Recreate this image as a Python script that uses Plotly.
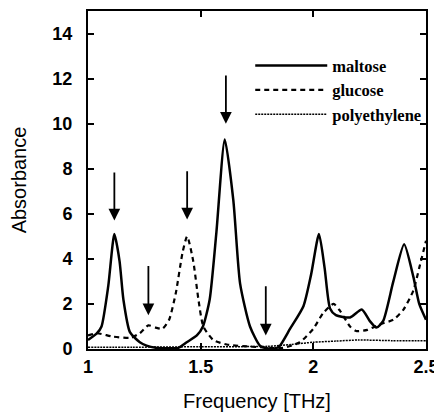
import plotly.graph_objects as go

# ---- data ----
maltose_x = [1.00, 1.04, 1.06, 1.09, 1.117, 1.14, 1.157, 1.186, 1.23, 1.26, 1.30, 1.40, 1.438, 1.483,
             1.51, 1.54, 1.57, 1.607, 1.645, 1.675, 1.719, 1.763, 1.80, 1.83, 1.852, 1.897, 1.956,
             1.99, 2.025, 2.05, 2.074, 2.10, 2.163, 2.215, 2.25, 2.28, 2.31, 2.355, 2.403, 2.444,
             2.47, 2.50]
maltose_y = [0.4, 0.7, 1.0, 2.8, 5.1, 3.9, 2.2, 0.75, 0.3, 0.15, 0.06, 0.05, 0.3, 0.6,
             1.0, 2.2, 5.2, 9.3, 6.6, 2.9, 1.0, 0.15, 0.02, 0.02, 0.15, 0.9, 1.9,
             3.3, 5.1, 3.6, 1.8, 1.5, 1.4, 1.75, 1.25, 0.95, 1.25, 3.0, 4.65, 3.2,
             2.0, 1.3]

glucose_x = [1.00, 1.04, 1.11, 1.19, 1.23, 1.268, 1.30, 1.33, 1.36, 1.39, 1.42, 1.44, 1.467, 1.49,
             1.512, 1.556, 1.616, 1.73, 1.865, 1.94, 2.00, 2.044, 2.09, 2.118, 2.163, 2.19, 2.24,
             2.296, 2.355, 2.40, 2.444, 2.47, 2.50]
glucose_y = [0.6, 0.7, 0.55, 0.5, 0.7, 1.05, 0.95, 0.9, 1.3, 2.5, 4.3, 5.0, 3.9, 2.2,
             1.0, 0.4, 0.2, 0.1, 0.05, 0.3, 0.9, 1.6, 2.0, 1.7, 1.0, 0.8, 0.85,
             1.1, 1.3, 1.75, 2.6, 3.6, 4.8]

poly_x = [1.00, 1.20, 1.50, 1.80, 1.90, 2.00, 2.10, 2.20, 2.35, 2.50]
poly_y = [0.08, 0.08, 0.10, 0.12, 0.2, 0.3, 0.35, 0.4, 0.37, 0.37]

arrow_x = [1.117, 1.268, 1.44, 1.612, 1.789]
arrow_top = [7.9, 3.75, 7.95, 12.2, 2.85]
arrow_tip = [5.7, 1.5, 5.75, 10.0, 0.6]

x_ticks = [1, 1.5, 2, 2.5]
x_tick_text = ["1", "1.5", "2", "2.5"]
y_ticks = [0, 2, 4, 6, 8, 10, 12, 14]

fig = go.Figure()
fig.add_trace(go.Scatter(x=maltose_x, y=maltose_y, mode="lines", name="maltose",
                         line=dict(color="black", width=2.5, shape="spline", smoothing=0.6)))
fig.add_trace(go.Scatter(x=glucose_x, y=glucose_y, mode="lines", name="glucose",
                         line=dict(color="black", width=2.2, dash="5px,4px", shape="spline", smoothing=0.6)))
fig.add_trace(go.Scatter(x=poly_x, y=poly_y, mode="lines", name="polyethylene",
                         line=dict(color="black", width=1.5, dash="2px,1px", shape="spline", smoothing=0.6)))

for xa, yt, yb in zip(arrow_x, arrow_top, arrow_tip):
    fig.add_annotation(x=xa, y=yb, ax=xa, ay=yt, xref="x", yref="y", axref="x", ayref="y",
                       showarrow=True, arrowhead=2, arrowsize=1.3, arrowwidth=1.8,
                       arrowcolor="black", text="")

axis_common = dict(showline=True, linecolor="black", linewidth=2, mirror="ticks",
                   ticks="inside", ticklen=6, tickwidth=1.5, tickcolor="black",
                   showgrid=False, zeroline=False, automargin=False,
                   tickfont=dict(family="Liberation Sans", size=18, color="black", weight="bold"))

fig.update_xaxes(range=[1, 2.5], tickvals=x_ticks, ticktext=x_tick_text,
                 title=dict(text="Frequency [THz]", font=dict(family="Liberation Sans", size=20, color="black"),
                            standoff=18),
                 **axis_common)
fig.update_yaxes(range=[0, 15], tickvals=y_ticks, ticklabelstandoff=10,
                 title=dict(text="Absorbance", font=dict(family="Liberation Sans", size=20, color="black"),
                            standoff=22),
                 **axis_common)

fig.update_layout(
    width=434, height=407,
    margin=dict(l=80, r=16, t=3, b=66),
    paper_bgcolor="white", plot_bgcolor="white",
    legend=dict(x=0.48, y=0.89, xanchor="left", yanchor="top", bgcolor="rgba(0,0,0,0)",
                itemwidth=72, tracegroupgap=0,
                font=dict(family="Liberation Serif", size=16.5, color="black", weight="bold")),
)

fig.write_html("out.html")
